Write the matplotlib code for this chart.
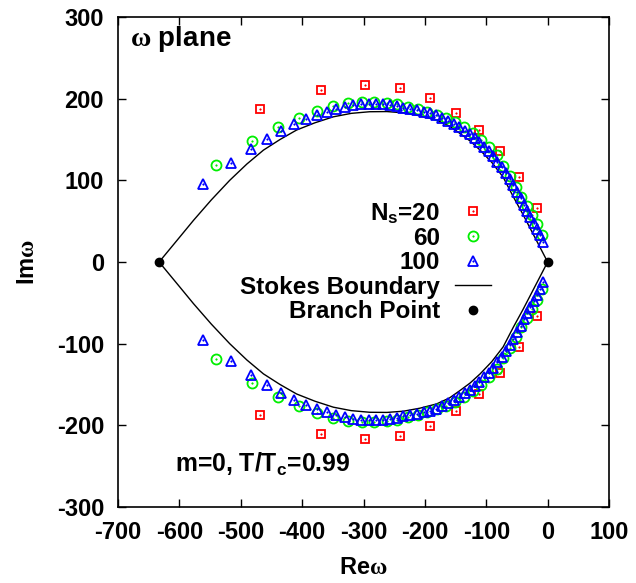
import matplotlib
matplotlib.use("Agg")
import matplotlib.pyplot as plt
from matplotlib.legend_handler import HandlerTuple

plt.rcParams['font.family'] = ['Liberation Sans', 'DejaVu Sans']
plt.rcParams['font.weight'] = 'bold'
plt.rcParams['axes.unicode_minus'] = False
plt.rcParams['mathtext.fontset'] = 'custom'
plt.rcParams['mathtext.rm'] = 'Liberation Serif'
plt.rcParams['mathtext.bf'] = 'Liberation Sans:bold'
plt.rcParams['mathtext.it'] = 'Liberation Sans:bold'

# ---------------- data (upper half; zeros come in complex-conjugate pairs) ----------------
stokes_re = [-633, -600, -577, -548, -518, -490, -463, -436, -409, -379, -349, -320,
             -290, -262, -235, -208, -181, -160, -143, -126, -110, -91, -72.5, -56,
             -40, -20, 0]
stokes_im = [0, 30, 51, 76, 100, 120, 137, 150, 161.6, 170.5, 177.8, 182,
             184, 184.2, 182.7, 179, 173.8, 166.5, 157.5, 148, 137, 122, 104, 80,
             58, 29, 0]

branch_re = [-633, 0]
branch_im = [0, 0]

ns20_re = [-469, -369, -297, -241, -191, -149, -112, -78, -47, -18]
ns20_im = [187, 210.5, 216.5, 213, 200.5, 183, 161.5, 135.5, 104.5, 66.5]

ns60_re = [-540, -482, -440, -405, -376, -349, -325, -303, -283, -262,
           -245, -227, -211, -196, -181, -166, -151, -136, -122, -108,
           -95, -83, -72, -62, -52, -43, -34, -26, -18, -9]
ns60_im = [119, 148, 165, 176.5, 185, 191, 194.6, 196, 195.5, 194.5,
           193, 190, 187, 183.5, 180, 176, 171, 165, 158, 150,
           141, 130.5, 118, 105, 92, 80, 69, 57, 46, 33]

ns100_re = [-561, -516.5, -484, -457, -434, -413, -394, -376, -360, -345,
            -330, -317, -304, -291, -280, -268, -257, -246, -235, -224,
            -213, -202, -192, -182, -172, -162, -153, -144, -135, -127,
            -119, -111, -103, -96, -89, -82, -75, -68, -62, -56,
            -50, -44, -38, -33, -28, -23, -18, -13, -8]
ns100_im = [96, 121.5, 138, 151, 160.5, 169, 175, 180, 184, 187,
            190, 192, 193.4, 194, 194, 193, 192, 190.5, 189, 187.5,
            186, 184, 182, 179.5, 176.5, 173, 169.5, 165.5, 161, 156.5,
            151.5, 146.5, 141, 135.5, 129.5, 123, 116.5, 109.5, 102, 94,
            86, 78, 69.5, 62, 55, 47.5, 40, 32.5, 25]

labels = [r"$\mathbf{N_s}$=20", "60", "100", "Stokes Boundary", "Branch Point"]
xticks = [-700, -600, -500, -400, -300, -200, -100, 0, 100]
yticks = [-300, -200, -100, 0, 100, 200, 300]

# ---------------- figure ----------------
fig = plt.figure(figsize=(6.36, 5.83), dpi=100)
ax = fig.add_axes([118/636, 76/583, 491/636, 490/583])

def conj(v):
    return v + [-t for t in v]

def series(re, im, marker, color, ms):
    xs = re + re
    ys = conj(im)
    h1, = ax.plot(xs, ys, ls='none', marker=marker, mfc='none', mec=color,
                  ms=ms, mew=1.3, zorder=3)
    h2, = ax.plot(xs, ys, ls='none', marker='o', mfc=color, mec=color,
                  ms=1.2, mew=0.3, zorder=3)
    return (h1, h2)

ax.plot(stokes_re, stokes_im, color='black', lw=1.0, zorder=2)
hs, = ax.plot(stokes_re, [-t for t in stokes_im], color='black', lw=1.0, zorder=2)

h20 = series(ns20_re, ns20_im, 's', '#ff0000', 6.3)
h60 = series(ns60_re, ns60_im, 'o', '#00ee00', 7.2)
h100 = series(ns100_re, ns100_im, '^', '#0000ff', 6.8)

hb, = ax.plot(branch_re, branch_im, ls='none', marker='o', color='black', ms=6, zorder=4)

ax.set_xlim(-700, 100)
ax.set_ylim(-300, 300)
ax.set_xticks(xticks)
ax.set_yticks(yticks)
ax.tick_params(direction='in', top=True, right=True, length=6, width=1,
               labelsize=17, pad=10)
for s in ax.spines.values():
    s.set_linewidth(1.2)

ax.set_xlabel(r"Re$\mathrm{\omega}$", fontsize=17, fontweight='bold')
ax.set_ylabel(r"Im$\mathrm{\omega}$", fontsize=17, fontweight='bold')
ax.xaxis.set_label_coords(0.5, -0.10)
ax.yaxis.set_label_coords(-0.16, 0.5)

ax.text(0.024, 0.985, r"$\mathrm{\omega}$ plane", transform=ax.transAxes,
        fontsize=20, fontweight='bold', va='top', ha='left')
ax.text(0.116, 0.071, r"m=0, T/T$_\mathbf{c}$=0.99", transform=ax.transAxes,
        fontsize=17.8, fontweight='bold', va='baseline', ha='left')

leg = ax.legend([h20, h60, h100, hs, hb], labels,
                handler_map={tuple: HandlerTuple(ndivide=1)},
                loc='center right', bbox_to_anchor=(0.76, 0.5),
                frameon=False, markerfirst=False, numpoints=1,
                handlelength=1.5, handletextpad=0.6, labelspacing=0.06,
                borderpad=0.0, borderaxespad=0.0,
                prop={'size': 17.5, 'weight': 'bold'})

fig.savefig("out.png", dpi=100)
